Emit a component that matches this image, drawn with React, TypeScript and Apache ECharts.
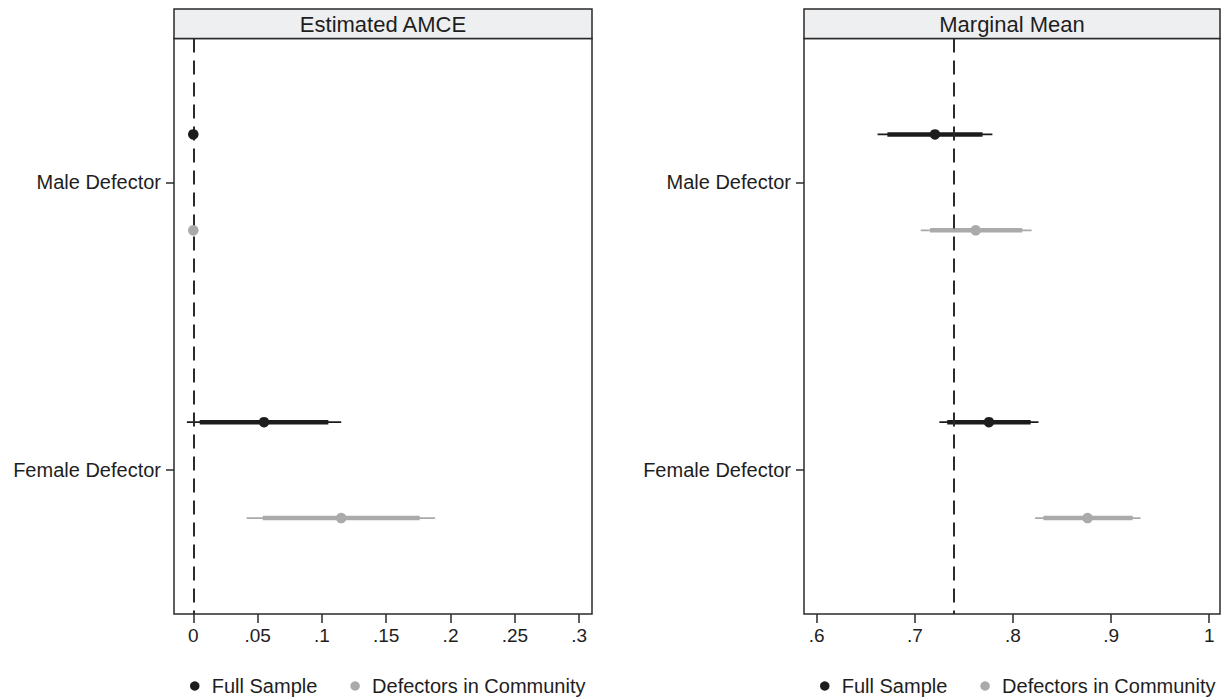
import React, { useEffect, useRef } from 'react';
import * as echarts from 'echarts';

const categories = ['Male Defector', 'Female Defector'];
const seriesNames = ['Full Sample', 'Defectors in Community'];
const panelTitles = ['Estimated AMCE', 'Marginal Mean'];

// Estimated AMCE (Male Defector is the reference category: no interval)
const amceFullEst = [0, 0.055];
const amceFullLo95 = [null, -0.005];
const amceFullHi95 = [null, 0.115];
const amceFullLo90 = [null, 0.005];
const amceFullHi90 = [null, 0.105];
const amceDefEst = [0, 0.115];
const amceDefLo95 = [null, 0.0415];
const amceDefHi95 = [null, 0.188];
const amceDefLo90 = [null, 0.054];
const amceDefHi90 = [null, 0.176];

// Marginal means
const mmFullEst = [0.7205, 0.7755];
const mmFullLo95 = [0.662, 0.725];
const mmFullHi95 = [0.779, 0.826];
const mmFullLo90 = [0.672, 0.733];
const mmFullHi90 = [0.769, 0.818];
const mmDefEst = [0.762, 0.876];
const mmDefLo95 = [0.706, 0.8225];
const mmDefHi95 = [0.819, 0.93];
const mmDefLo90 = [0.7155, 0.831];
const mmDefHi90 = [0.8095, 0.922];

const amceTicks = [0, 0.05, 0.1, 0.15, 0.2, 0.25, 0.3];
const mmTicks = [0.6, 0.7, 0.8, 0.9, 1];
const amceRef = 0;
const mmRef = 0.74;

const FONT = '"Liberation Sans", Arial, Helvetica, sans-serif';
const TEXT = '#1e1e1e';
const LINE = '#2a2a2a';
const COLORS = ['#1c1c1c', '#aaaaab'];
const GROUP_OFFSET = [-1 / 6, 1 / 6];

const fmtTick = (v: number) => {
  if (v === 0) return '0';
  const s = String(+Number(v).toFixed(3));
  return s.replace(/^0\./, '.').replace(/^-0\./, '-.');
};

function pointData(est: number[], gi: number) {
  return est.map((v, i) => [v, i + 1 + GROUP_OFFSET[gi]]);
}

function ciData(lo95: any[], hi95: any[], lo90: any[], hi90: any[], gi: number) {
  const out: number[][] = [];
  lo95.forEach((v, i) => {
    if (v == null) return;
    out.push([lo95[i], hi95[i], lo90[i], hi90[i], i + 1 + GROUP_OFFSET[gi]]);
  });
  return out;
}

function ciSeries(name: string, color: string, idx: number, data: number[][], ref?: number) {
  const s: any = {
    type: 'custom',
    name,
    xAxisIndex: idx,
    yAxisIndex: idx,
    z: 2,
    itemStyle: { color },
    encode: { x: [0, 1, 2, 3], y: 4 },
    data,
    renderItem: (params: any, api: any) => {
      const y = api.value(4);
      const a = api.coord([api.value(0), y]);
      const b = api.coord([api.value(1), y]);
      const c = api.coord([api.value(2), y]);
      const d = api.coord([api.value(3), y]);
      return {
        type: 'group',
        children: [
          { type: 'line', shape: { x1: a[0], y1: a[1], x2: b[0], y2: b[1] }, style: { stroke: color, lineWidth: 1.8 } },
          { type: 'line', shape: { x1: c[0], y1: c[1], x2: d[0], y2: d[1] }, style: { stroke: color, lineWidth: 4.5 } },
        ],
      };
    },
  };
  if (ref !== undefined) {
    s.markLine = {
      silent: true,
      symbol: 'none',
      z: 5,
      label: { show: false },
      lineStyle: { color: LINE, width: 2, type: [14, 8] },
      data: [{ xAxis: ref }],
    };
  }
  return s;
}

function pointSeries(name: string, color: string, idx: number, data: number[][]) {
  return {
    type: 'scatter',
    name,
    xAxisIndex: idx,
    yAxisIndex: idx,
    z: 10,
    symbol: 'circle',
    symbolSize: 10.5,
    itemStyle: { color, opacity: 1 },
    data,
  };
}

const GRIDS = [
  { left: 174, width: 418 },
  { left: 804, width: 416 },
];
const GRID_TOP = 38.5;
const GRID_H = 575.5;

export default function App() {
  const ref = useRef<HTMLDivElement>(null);
  useEffect(() => {
    if (!ref.current) return;
    const chart = echarts.init(ref.current, undefined, { renderer: 'svg' });

    const xRanges = [
      { min: -0.015, max: 0.31, ticks: amceTicks },
      { min: 0.587, max: 1.011, ticks: mmTicks },
    ];

    const option: any = {
      animation: false,
      backgroundColor: '#ffffff',
      textStyle: { fontFamily: FONT, color: TEXT },
      grid: GRIDS.map((g) => ({
        left: g.left,
        width: g.width,
        top: GRID_TOP,
        height: GRID_H,
        show: true,
        borderColor: LINE,
        borderWidth: 1.5,
        backgroundColor: 'transparent',
        containLabel: false,
      })),
      xAxis: xRanges.map((r, i) => ({
        type: 'value',
        gridIndex: i,
        min: r.min,
        max: r.max,
        axisLine: { show: false, onZero: false },
        splitLine: { show: false },
        axisTick: {
          show: true,
          customValues: r.ticks,
          length: 9,
          lineStyle: { color: LINE, width: 1.5 },
        },
        axisLabel: {
          customValues: r.ticks,
          formatter: (v: number) => fmtTick(v),
          fontSize: 19,
          margin: 12,
          color: TEXT,
          fontFamily: FONT,
        },
      })),
      yAxis: [0, 1].map((i) => ({
        type: 'value',
        gridIndex: i,
        min: 0.5,
        max: 2.5,
        inverse: true,
        position: 'left',
        axisLine: { show: false, onZero: false },
        splitLine: { show: false },
        axisTick: {
          show: true,
          customValues: [1, 2],
          length: 8,
          lineStyle: { color: LINE, width: 1.5 },
        },
        axisLabel: {
          customValues: [1, 2],
          formatter: (v: number) => categories[Math.round(v) - 1] || '',
          fontSize: 20,
          margin: 13,
          color: TEXT,
          fontFamily: FONT,
        },
      })),
      legend: [190, 820].map((left) => ({
        left,
        top: 676,
        padding: 0,
        orient: 'horizontal',
        icon: 'circle',
        itemWidth: 24,
        itemHeight: 9.5,
        itemGap: 33,
        selectedMode: false,
        data: seriesNames.map((n, k) => ({ name: n, itemStyle: { color: COLORS[k] } })),
        textStyle: { fontSize: 20, color: TEXT, fontFamily: FONT },
      })),
      graphic: GRIDS.map((g, i) => ({
        type: 'group',
        children: [
          {
            type: 'rect',
            shape: { x: g.left, y: 9, width: g.width, height: GRID_TOP - 9 },
            style: { fill: '#eeeff1', stroke: LINE, lineWidth: 1.5 },
            z: 1,
          },
          {
            type: 'text',
            x: g.left + g.width / 2,
            y: 24,
            style: {
              text: panelTitles[i],
              fontSize: 22,
              fontFamily: FONT,
              fill: TEXT,
              align: 'center',
              verticalAlign: 'middle',
            },
            z: 2,
          },
        ],
      })),
      series: [
        ciSeries(seriesNames[0], COLORS[0], 0, ciData(amceFullLo95, amceFullHi95, amceFullLo90, amceFullHi90, 0), amceRef),
        ciSeries(seriesNames[1], COLORS[1], 0, ciData(amceDefLo95, amceDefHi95, amceDefLo90, amceDefHi90, 1)),
        ciSeries(seriesNames[0], COLORS[0], 1, ciData(mmFullLo95, mmFullHi95, mmFullLo90, mmFullHi90, 0), mmRef),
        ciSeries(seriesNames[1], COLORS[1], 1, ciData(mmDefLo95, mmDefHi95, mmDefLo90, mmDefHi90, 1)),
        pointSeries(seriesNames[0], COLORS[0], 0, pointData(amceFullEst, 0)),
        pointSeries(seriesNames[1], COLORS[1], 0, pointData(amceDefEst, 1)),
        pointSeries(seriesNames[0], COLORS[0], 1, pointData(mmFullEst, 0)),
        pointSeries(seriesNames[1], COLORS[1], 1, pointData(mmDefEst, 1)),
      ],
    };
    chart.setOption(option);
    return () => chart.dispose();
  }, []);

  return (
    <div
      ref={ref}
      style={{ position: 'absolute', left: 0, top: 0, width: 1222, height: 698, background: '#fff' }}
    />
  );
}
